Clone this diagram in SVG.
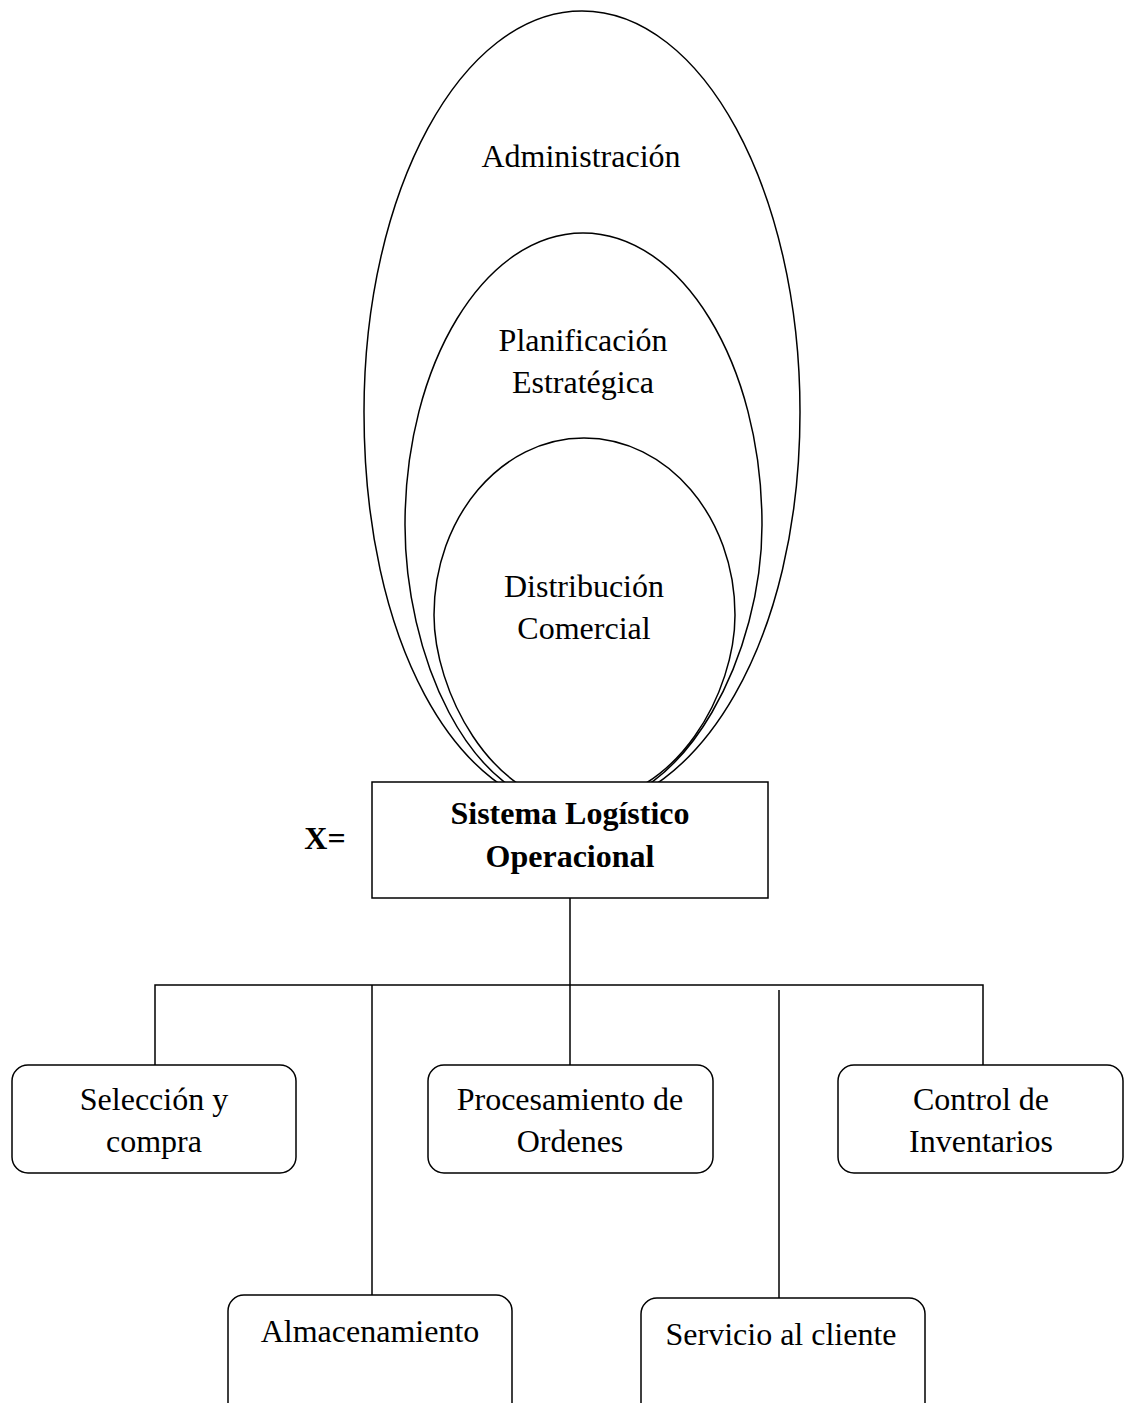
<svg xmlns="http://www.w3.org/2000/svg" width="1128" height="1403" viewBox="0 0 1128 1403">
  <style>
    .shape { fill: none; stroke: #000; stroke-width: 1.5; }
    .box { fill: #fff; stroke: #000; stroke-width: 1.5; }
    .wire { fill: none; stroke: #000; stroke-width: 1.5; }
    text { font-family: "Liberation Serif", "Times New Roman", serif; font-size: 32px; fill: #000; text-anchor: middle; }
    .bold { font-weight: bold; }
  </style>
  <rect width="1128" height="1403" fill="#fff"/>

  <!-- nested egg shapes, all narrowing to a common low point hidden behind the system box -->
  <g id="administracion">
    <path class="shape" d="M364 412 C364 190.5 461.6 11 582 11 C702.4 11 800 190.5 800 412 C800 640 700 805 577 812 C455 805 364 640 364 412 Z"/>
    <text x="581" y="167">Administración</text>
  </g>
  <g id="planificacion">
    <path class="shape" d="M405 525 C405 363.7 484.7 233 583 233 C681.9 233 762 363.7 762 525 C762 650 690 805 577 810 C465 805 405 650 405 525 Z"/>
    <text x="583" y="351">Planificación</text>
    <text x="583" y="393">Estratégica</text>
  </g>
  <g id="distribucion">
    <path class="shape" d="M434 615 C434 517.2 501.2 438 584 438 C667.4 438 735 517.2 735 615 C735 690 680 800 577 805 C490 800 434 690 434 615 Z"/>
    <text x="584" y="597">Distribución</text>
    <text x="584" y="639">Comercial</text>
  </g>

  <!-- connectors -->
  <g id="connectors">
    <path class="wire" d="M570 898 V985"/>
    <path class="wire" d="M155 1065 V985 H983 V1065"/>
    <path class="wire" d="M372 985 V1297"/>
    <path class="wire" d="M570 985 V1065"/>
    <path class="wire" d="M779 990 V1299"/>
  </g>

  <g id="label-x">
    <text class="bold" x="325" y="849">X=</text>
  </g>

  <g id="sistema">
    <rect class="box" x="372" y="782" width="396" height="116"/>
    <text class="bold" x="570" y="824">Sistema Logístico</text>
    <text class="bold" x="570" y="867">Operacional</text>
  </g>

  <g id="seleccion">
    <rect class="box" x="12" y="1065" width="284" height="108" rx="16"/>
    <text x="154" y="1110">Selección y</text>
    <text x="154" y="1152">compra</text>
  </g>
  <g id="procesamiento">
    <rect class="box" x="428" y="1065" width="285" height="108" rx="16"/>
    <text x="570" y="1110">Procesamiento de</text>
    <text x="570" y="1152">Ordenes</text>
  </g>
  <g id="control">
    <rect class="box" x="838" y="1065" width="285" height="108" rx="16"/>
    <text x="981" y="1110">Control de</text>
    <text x="981" y="1152">Inventarios</text>
  </g>
  <g id="almacenamiento">
    <rect class="box" x="228" y="1295" width="284" height="140" rx="16"/>
    <text x="370" y="1342">Almacenamiento</text>
  </g>
  <g id="servicio">
    <rect class="box" x="641" y="1298" width="284" height="140" rx="16"/>
    <text x="781" y="1345">Servicio al cliente</text>
  </g>
</svg>
